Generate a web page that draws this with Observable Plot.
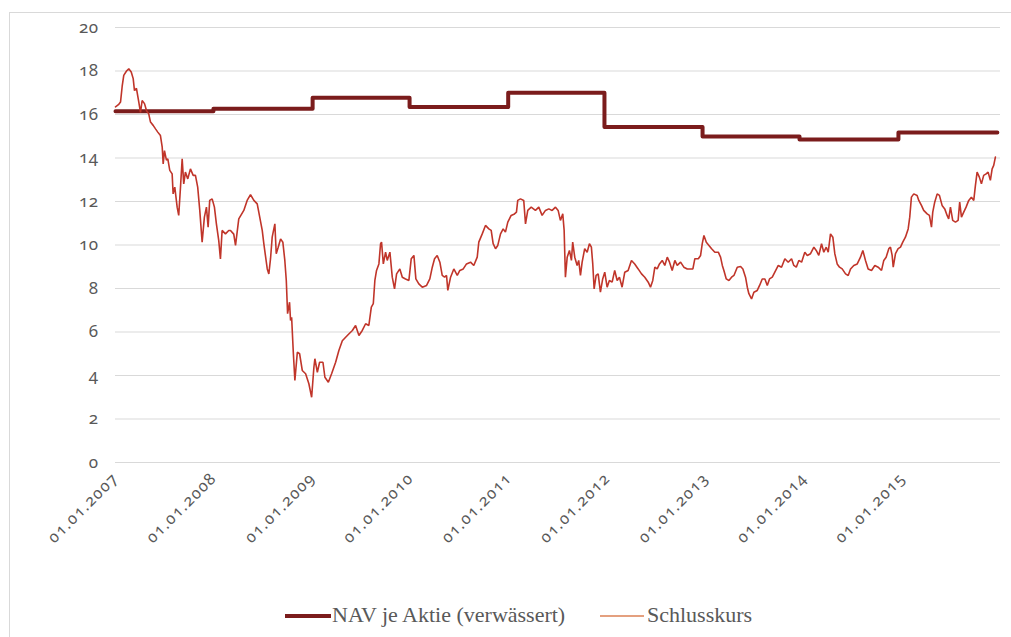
<!DOCTYPE html>
<html>
<head>
<meta charset="utf-8">
<script src="https://cdn.jsdelivr.net/npm/d3@7"></script>
<script src="https://cdn.jsdelivr.net/npm/@observablehq/plot@0.6"></script>
<style>
  html, body { margin: 0; padding: 0; background: #fff; }
  #frame { position: absolute; left: 9px; top: 12px; width: 1010px; height: 640px;
           border-left: 1px solid #d9d9d9; border-top: 1px solid #d9d9d9; }
  #chart { position: absolute; left: 0; top: 0; }
  #chart svg text { font-family: "Noto Sans", sans-serif; font-variant-numeric: oldstyle-nums; fill: #595959; }
  #chart svg g[aria-label="y-axis tick label"] text { font-size: 17px; letter-spacing: 0.5px; }
  #chart svg g[aria-label="x-axis tick label"] text { font-size: 16px; letter-spacing: 1.3px; }
  .leg { position: absolute; font-family: "Liberation Serif", serif; font-size: 22px; color: #595959; line-height: 1; }
  .sw { position: absolute; }
</style>
</head>
<body>
<div id="frame"></div>
<div id="chart"></div>
<div class="sw" style="left:285px; top:614px; width:46px; height:4px; background:#7b1c1c;"></div>
<div class="leg" style="left:332px; top:604px;">NAV je Aktie (verwässert)</div>
<div class="sw" style="left:600px; top:615px; width:44px; height:1.5px; background:#e4a07f;"></div>
<div class="leg" style="left:647px; top:604px;">Schlusskurs</div>
<script>
// Time in decimal years, values in EUR
const navYears  = [2007.0, 2007.996, 2009.002, 2009.988, 2010.991, 2011.970, 2012.965, 2013.951, 2014.957, 2015.963];
const navValues = [16.15, 16.27, 16.77, 16.34, 17.0, 15.42, 14.99, 14.85, 15.17, 15.17];

const priceYears = [
2007.000,2007.030,2007.051,2007.068,2007.084,2007.112,2007.135,2007.160,2007.180,2007.193,2007.213,2007.237,2007.254,2007.271,2007.295,2007.315,2007.338,2007.356,2007.383,2007.407,2007.430,2007.457,2007.475,2007.485,2007.498,2007.518,2007.532,2007.552,2007.576,2007.586,2007.603,2007.627,2007.643,2007.661,2007.678,2007.694,2007.711,2007.735,2007.762,2007.790,2007.813,2007.836,2007.857,2007.881,2007.904,2007.925,2007.942,2007.958,2007.983,
2008.006,2008.026,2008.050,2008.067,2008.084,2008.118,2008.151,2008.169,2008.202,2008.220,2008.253,2008.304,2008.338,2008.372,2008.406,2008.440,2008.456,2008.491,2008.507,2008.542,2008.558,2008.575,2008.592,2008.619,2008.633,2008.653,2008.677,2008.700,2008.720,2008.735,2008.748,2008.768,2008.778,2008.789,2008.806,2008.822,2008.847,2008.870,2008.897,2008.931,2008.964,2008.992,
2009.015,2009.025,2009.050,2009.073,2009.107,2009.127,2009.162,2009.195,2009.236,2009.269,2009.304,2009.355,2009.406,2009.439,2009.473,2009.507,2009.541,2009.574,2009.599,2009.619,2009.635,2009.652,2009.676,2009.693,2009.703,2009.721,2009.744,2009.761,2009.788,2009.812,2009.835,2009.856,2009.889,2009.914,2009.947,2009.981,
2010.005,2010.032,2010.052,2010.082,2010.117,2010.161,2010.194,2010.219,2010.242,2010.269,2010.296,2010.320,2010.344,2010.364,2010.377,2010.405,2010.438,2010.473,2010.499,2010.534,2010.567,2010.608,2010.641,2010.676,2010.692,2010.727,2010.760,2010.794,2010.818,2010.838,2010.862,2010.885,2010.913,2010.940,2010.963,2010.987,
2011.021,2011.055,2011.075,2011.088,2011.116,2011.149,2011.167,2011.190,2011.225,2011.268,2011.302,2011.336,2011.370,2011.404,2011.438,2011.472,2011.499,2011.522,2011.546,2011.560,2011.573,2011.591,2011.614,2011.634,2011.647,2011.668,2011.692,2011.708,2011.726,2011.743,2011.769,2011.794,2011.817,2011.837,2011.851,2011.865,2011.885,2011.906,2011.929,2011.952,2011.973,2011.997,
2012.020,2012.048,2012.074,2012.099,2012.122,2012.149,2012.176,2012.210,2012.244,2012.277,2012.312,2012.346,2012.379,2012.414,2012.437,2012.460,2012.481,2012.505,2012.528,2012.556,2012.582,2012.607,2012.630,2012.657,2012.684,2012.708,2012.742,2012.775,2012.810,2012.843,2012.867,2012.887,2012.922,2012.945,2012.962,2012.979,
2013.003,2013.030,2013.057,2013.090,2013.125,2013.148,2013.166,2013.182,2013.206,2013.233,2013.260,2013.284,2013.318,2013.352,2013.375,2013.402,2013.420,2013.436,2013.463,2013.487,2013.521,2013.545,2013.572,2013.599,2013.623,2013.646,2013.674,2013.700,2013.735,2013.768,2013.802,2013.836,2013.870,2013.893,2013.918,2013.944,2013.972,
2014.005,2014.030,2014.063,2014.097,2014.121,2014.147,2014.175,2014.198,2014.223,2014.243,2014.266,2014.290,2014.310,2014.334,2014.358,2014.385,2014.419,2014.446,2014.470,2014.503,2014.538,2014.571,2014.595,2014.622,2014.649,2014.683,2014.717,2014.751,2014.785,2014.808,2014.832,2014.859,2014.876,2014.893,2014.904,2014.927,2014.954,2014.978,
2015.001,2015.028,2015.056,2015.072,2015.089,2015.113,2015.147,2015.164,2015.191,2015.214,2015.249,2015.272,2015.293,2015.306,2015.326,2015.351,2015.374,2015.401,2015.428,2015.452,2015.468,2015.486,2015.509,2015.537,2015.564,2015.580,2015.598,2015.621,2015.645,2015.672,2015.699,2015.723,2015.740,2015.757,2015.780,2015.801,2015.824,2015.849,2015.869,2015.892,2015.910,2015.926,2015.943
];
const priceValues = [
16.35,16.45,16.57,17.3,17.8,18.0,18.1,17.95,17.65,17.1,17.2,16.57,16.1,16.64,16.5,16.18,16.03,15.65,15.5,15.34,15.19,15.03,14.5,13.73,14.34,13.9,13.96,13.43,13.27,12.35,12.66,11.74,11.36,12.66,13.96,12.81,13.35,13.04,13.5,13.2,13.2,12.66,11.59,10.13,11.28,11.74,10.82,12.05,12.12,
11.74,10.97,10.2,9.36,10.67,10.51,10.67,10.67,10.5,9.98,11.2,11.59,12.05,12.32,12.05,11.89,11.51,10.67,10.06,8.9,8.67,9.37,10.36,10.97,9.6,9.9,10.28,10.13,9.29,8.37,6.84,7.37,6.53,6.68,5.07,3.77,5.07,5.0,4.23,4.08,3.62,3.0,
4.38,4.77,4.15,4.61,4.61,3.92,3.69,4.08,4.61,5.15,5.6,5.84,6.07,6.3,5.84,6.07,6.38,6.3,7.14,7.3,8.37,8.83,9.13,10.06,10.13,9.13,9.67,9.29,9.67,8.52,7.98,8.67,8.9,8.52,8.44,8.37,
9.37,9.52,8.44,8.21,8.06,8.14,8.44,8.98,9.37,9.52,9.21,8.6,8.52,8.6,7.91,8.52,8.9,8.6,8.83,8.9,9.13,9.21,9.06,9.44,10.13,10.51,10.9,10.74,10.67,10.06,9.83,9.98,10.51,10.74,10.59,11.05,
11.36,11.43,11.51,12.05,12.12,12.05,10.97,11.59,11.74,11.59,11.74,11.36,11.59,11.66,11.59,11.74,11.59,11.13,11.43,10.67,8.52,9.44,9.75,9.29,10.13,9.44,9.06,9.29,8.6,9.21,9.83,9.67,10.06,9.9,9.13,7.98,8.6,8.67,7.83,8.44,8.75,8.06,
8.37,8.29,8.83,8.37,8.52,8.06,8.75,8.83,9.29,9.13,8.9,8.67,8.52,8.29,8.06,8.37,8.98,8.9,9.13,9.29,9.06,9.44,9.21,8.83,9.29,9.06,9.21,8.98,8.9,8.9,8.9,9.37,9.37,9.52,10.06,10.44,
10.13,9.98,9.83,9.67,9.67,9.44,9.06,8.83,8.44,8.37,8.52,8.6,8.98,9.01,8.9,8.52,8.06,7.76,7.52,7.83,7.91,8.14,8.44,8.44,8.14,8.44,8.52,8.75,9.06,8.98,9.37,9.21,9.37,9.06,8.98,9.29,9.21,
9.67,9.52,9.6,9.9,9.75,9.52,10.06,9.67,9.9,9.67,10.51,10.36,9.6,9.13,8.98,8.9,8.67,8.6,8.9,9.06,9.13,9.44,9.75,9.29,8.9,8.83,9.06,8.98,8.83,9.29,9.44,9.83,9.9,9.52,8.98,9.6,9.83,9.9,
10.13,10.36,10.74,11.28,12.2,12.35,12.28,12.05,11.82,11.59,11.43,11.36,10.82,11.51,11.97,12.35,12.28,11.82,11.66,11.36,11.2,11.74,11.13,11.05,11.13,11.97,11.28,11.51,11.74,12.05,12.2,12.05,12.74,13.35,13.12,12.81,13.2,13.27,13.35,12.97,13.5,13.66,14.04
];

const yTicks = [0, 2, 4, 6, 8, 10, 12, 14, 16, 18, 20];
const xTickYears = [2007, 2008, 2009, 2010, 2011, 2012, 2013, 2014, 2015];

function toDate(t) {
  const y = Math.floor(t);
  const a = Date.UTC(y, 0, 1), b = Date.UTC(y + 1, 0, 1);
  return new Date(a + (t - y) * (b - a));
}

const priceData = priceYears.map((t, i) => ({date: toDate(t), value: priceValues[i]}));
const navData = navYears.map((t, i) => ({date: toDate(t), value: navValues[i]}));
const xTicks = xTickYears.map(y => toDate(y));

const chart = Plot.plot({
  width: 1011,
  height: 590,
  marginLeft: 115,
  marginRight: 11,
  marginTop: 27,
  marginBottom: 128,
  style: {background: "transparent", fontSize: "15px", color: "#595959"},
  x: {type: "utc", domain: [toDate(2007), toDate(2015.995)]},
  y: {domain: [0, 20]},
  marks: [
    Plot.gridY(yTicks, {stroke: "#d9d9d9", strokeOpacity: 1, strokeWidth: 1}),
    Plot.axisY(yTicks, {tickSize: 0, tickPadding: 17, label: null}),
    Plot.axisX(xTicks, {tickSize: 0, tickPadding: 13, tickRotate: -45, label: null,
                        tickFormat: d3.utcFormat("%d.%m.%Y")}),
    Plot.line(navData, {x: "date", y: "value", curve: "step-after", stroke: "#7b1c1c", strokeWidth: 4}),
    Plot.line(priceData, {x: "date", y: "value", stroke: "#c0352a", strokeWidth: 1.6, strokeLinejoin: "miter"})
  ]
});
document.getElementById("chart").appendChild(chart);
</script>
</body>
</html>
